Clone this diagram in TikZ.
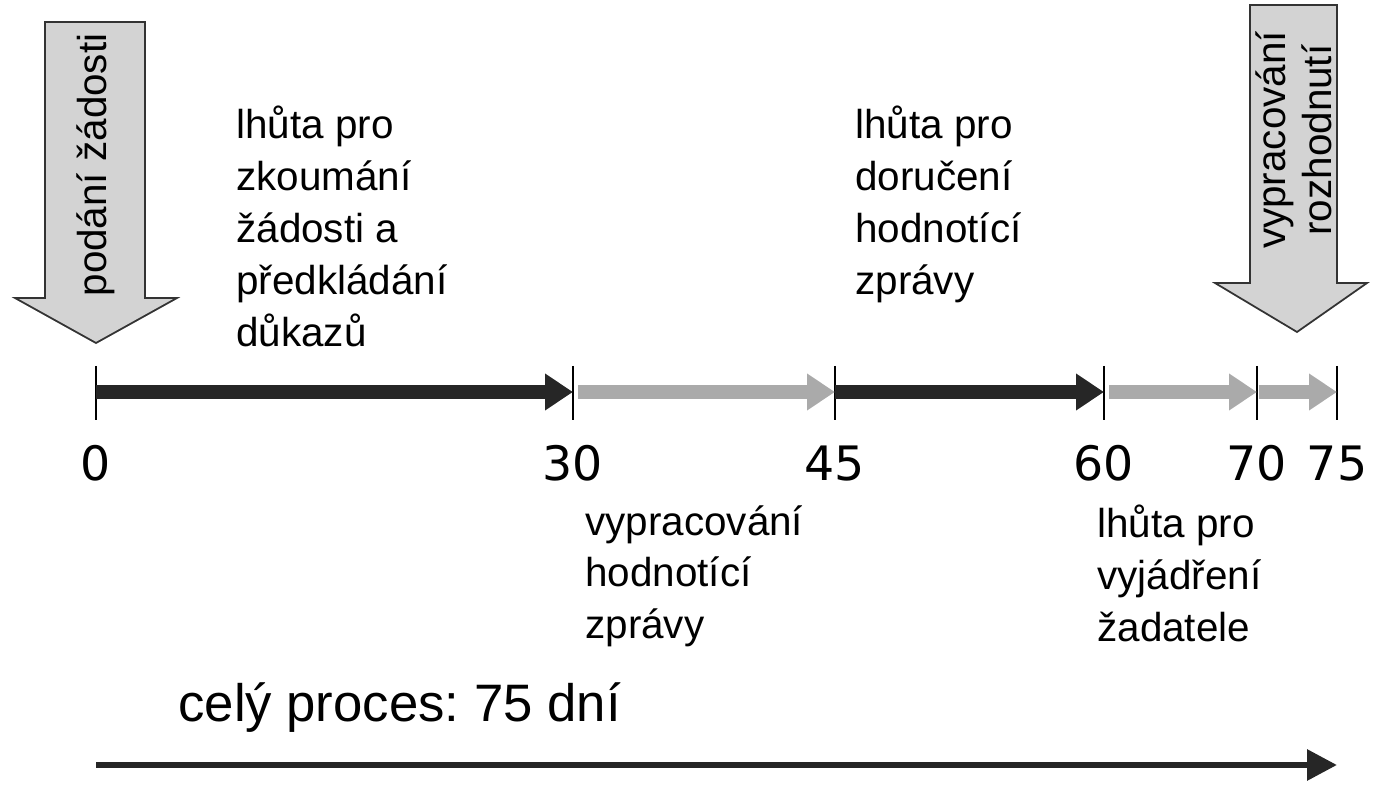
\documentclass[tikz,border=0pt]{standalone}
\usepackage{fontspec}
\setmainfont{Liberation Sans}
\newfontfamily\numfont{DejaVu Sans}
\frenchspacing
\usetikzlibrary{positioning, arrows.meta}
\definecolor{boxgrey}{HTML}{D3D3D3}
\definecolor{linegrey}{HTML}{AAAAAA}
\tikzset{
  seg/.style={line width=8pt, -{Triangle[length=0.56cm, width=0.7cm]}},
  tick/.style={line width=1.2pt},
  num/.style={font=\numfont\fontsize{27}{32}\selectfont, inner sep=0pt, anchor=base},
  lbl/.style={font=\fontsize{23}{29.5}\selectfont, align=left, anchor=north west, inner sep=0pt},
  event/.style={draw=black!80, fill=boxgrey, line width=1pt, line join=miter},
  eventtext/.style={rotate=90, align=center, inner sep=0pt, font=\fontsize{23}{26}\selectfont}
}
\begin{document}
\begin{tikzpicture}[x=0.02cm, y=-0.02cm]
\useasboundingbox (0,0) rectangle (1397,800);
% ticks on the time line
\foreach \d/\x in {0/96, 30/573, 45/835, 60/1104, 70/1257, 75/1337}{
  \coordinate (t\d) at (\x,392);
  \draw[tick] (\x,366) -- (\x,420);
  \node[num] (n\d) at (\x,480) {\d};
}
\draw[seg, black!85] (t0) -- (t30);
\draw[seg, linegrey] ([xshift=3]t30) -- (t45);
\draw[seg, black!85] (t45) -- (t60);
\draw[seg, linegrey] ([xshift=3]t60) -- (t70);
\draw[seg, linegrey] ([xshift=1]t70) -- (t75);
% events
\draw[event] (45,22) -- (145,22) -- (145,298) -- (177,298) -- (96,343) -- (15,298) -- (45,298) -- cycle;
\node[eventtext] (start) at (96,165) {podání žádosti};
\draw[event] (1250,5) -- (1337,5) -- (1337,283) -- (1367,283) -- (1297,332) -- (1215,283) -- (1250,283) -- cycle;
\node[eventtext] (end) at (1294,140) {vypracování\\rozhodnutí};
% labels
\node[lbl] (l1) at (236,106) {lhůta pro\\zkoumání\\žádosti a\\předkládání\\důkazů};
\node[lbl] (l2) at (855,106) {lhůta pro\\doručení\\hodnotící\\zprávy};
\node[lbl] (l3) at (585,505) {vypracování\\hodnotící\\zprávy};
\node[lbl] (l4) at (1097,505) {lhůta pro\\vyjádření\\žadatele};
% whole process
\node[font=\fontsize{30}{34}\selectfont, anchor=west, inner sep=0pt] (total) at (178,708) {celý proces: 75 dní};
\coordinate (p0) at (96,765);
\coordinate (p75) at (1337,765);
\draw[line width=3.5pt, black!85, -{Triangle[length=0.6cm, width=0.6cm]}] (p0) -- (p75);
\end{tikzpicture}
\end{document}
